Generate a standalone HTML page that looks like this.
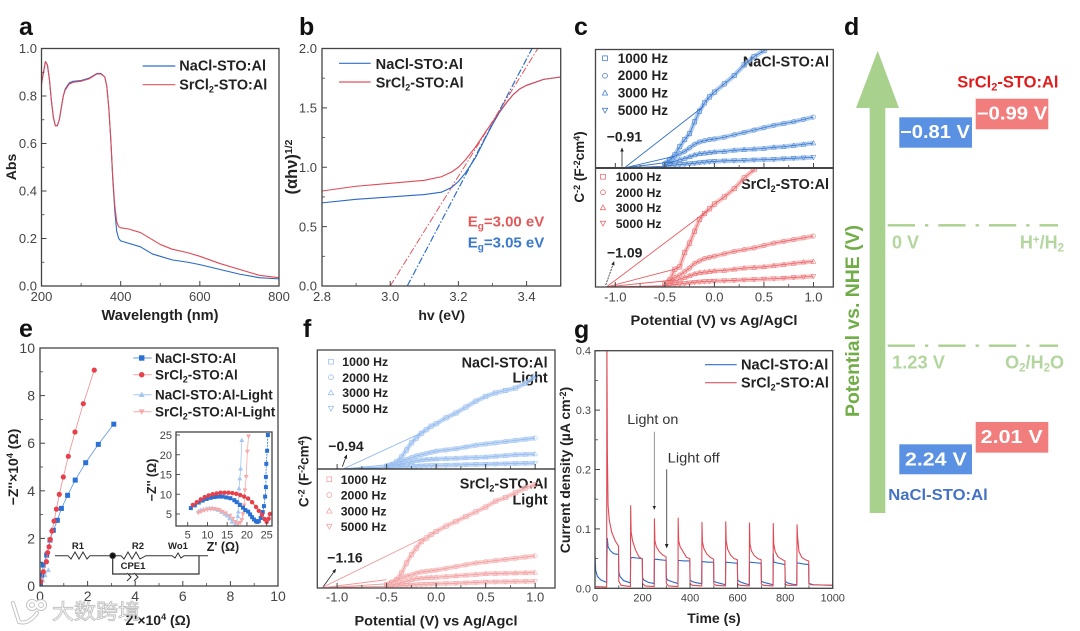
<!DOCTYPE html>
<html lang="en">
<head>
<meta charset="utf-8">
<title>Figure panels a to g</title>
<style>
html,body{margin:0;padding:0;background:#fff;width:1080px;height:631px;overflow:hidden}
svg{display:block;filter:blur(0.3px);font-size:13.5px}
text{font-family:"Liberation Sans","Noto Sans CJK SC",sans-serif;fill:#222}
.b{font-weight:bold}
.tag{font-weight:bold;font-size:25px;fill:#111}
.t{font-weight:bold;fill:#222}
.leg{font-weight:bold;font-size:14.4px;fill:#222}
.leg.e{font-size:13.5px}
.dg{font-weight:bold;font-size:18px;fill:#b3d59e}
.val{font-weight:bold;font-size:18px;fill:#fff}
</style>
</head>
<body>
<svg id="fig" xmlns="http://www.w3.org/2000/svg" width="1080" height="631" viewBox="0 0 1080 631">
<defs>
<marker id="ah" viewBox="0 0 8 8" refX="7" refY="4" markerWidth="5" markerHeight="5" orient="auto"><path d="M0 0.5L8 4L0 7.5Z" fill="#222"/></marker>
<clipPath id="clip-a"><rect x="41.5" y="48.5" width="237.5" height="237.5"/></clipPath>
<clipPath id="clip-b"><rect x="322" y="48.5" width="238.7" height="237.5"/></clipPath>
<clipPath id="clip-c1"><rect x="595.5" y="49.5" width="237.8" height="118.5"/></clipPath>
<clipPath id="clip-c2"><rect x="595.5" y="168" width="237.8" height="119"/></clipPath>
<clipPath id="clip-e"><rect x="40" y="348" width="238" height="238"/></clipPath>
<clipPath id="clip-ei"><rect x="176" y="432" width="96" height="94"/></clipPath>
<clipPath id="clip-f1"><rect x="317.3" y="350" width="238" height="119"/></clipPath>
<clipPath id="clip-f2"><rect x="317.3" y="469" width="238" height="119"/></clipPath>
<clipPath id="clip-g"><rect x="595" y="350.7" width="237.7" height="237.6"/></clipPath>
</defs>

<g id="panel-a">
  <text class="tag" x="19" y="35">a</text>
  <text class="t" x="160" y="320" text-anchor="middle" font-size="14.6">Wavelength (nm)</text>
  <text class="t" font-size="14" transform="translate(16,167) rotate(-90)" text-anchor="middle">Abs</text>
  <line x1="142.7" x2="175.3" y1="66" y2="66" stroke="#2f6fc8" stroke-width="1.2"/>
  <text class="leg" x="179.3" y="70.7" textLength="86.7" lengthAdjust="spacingAndGlyphs">NaCl-STO:Al</text>
  <line x1="142.7" x2="175.3" y1="84.7" y2="84.7" stroke="#e2555f" stroke-width="1.2"/>
  <text class="leg" x="179.3" y="89.3">SrCl<tspan font-size="9" dy="3">2</tspan><tspan dy="-3">-STO:Al</tspan></text>
</g>

<g id="panel-b">
  <text class="tag" x="299" y="35">b</text>
  <text class="t" x="441.7" y="320" text-anchor="middle" font-size="14">hv (eV)</text>
  <text class="t" transform="translate(297,167) rotate(-90)" text-anchor="middle" font-size="16.5">(αhν)<tspan font-size="10.5" dy="-5">1/2</tspan></text>
  <line x1="339" x2="370.7" y1="63.3" y2="63.3" stroke="#2f6fc8" stroke-width="1.2"/>
  <text class="leg" x="375.7" y="69" textLength="87.3" lengthAdjust="spacingAndGlyphs">NaCl-STO:Al</text>
  <line x1="339" x2="370.7" y1="82" y2="82" stroke="#e2555f" stroke-width="1.2"/>
  <text class="leg" x="375.7" y="87.3">SrCl<tspan font-size="9" dy="3">2</tspan><tspan dy="-3">-STO:Al</tspan></text>
  <text x="467.7" y="226.7" font-size="15" font-weight="bold" style="fill:#e15a5a">E<tspan font-size="10" dy="3">g</tspan><tspan dy="-3">=3.00 eV</tspan></text>
  <text x="467.7" y="247.7" font-size="15" font-weight="bold" style="fill:#3a78cc">E<tspan font-size="10" dy="3">g</tspan><tspan dy="-3">=3.05 eV</tspan></text>
</g>

<g id="panel-c">
  <text class="tag" x="574" y="35">c</text>
  <text class="t" x="714" y="325" text-anchor="middle" textLength="167" lengthAdjust="spacingAndGlyphs">Potential (V) vs Ag/AgCl</text>
  <text class="t" transform="translate(584,167) rotate(-90)" text-anchor="middle">C<tspan font-size="9" dy="-4">-2</tspan><tspan dy="4"> (F</tspan><tspan font-size="9" dy="-4">-2</tspan><tspan dy="4">cm</tspan><tspan font-size="9" dy="-4">4</tspan><tspan dy="4">)</tspan></text>
  <text x="829" y="66.7" class="leg" text-anchor="end">NaCl-STO:Al</text>
  <text x="829" y="189" class="leg" text-anchor="end">SrCl<tspan font-size="9" dy="3">2</tspan><tspan dy="-3">-STO:Al</tspan></text>
  <text x="606.7" y="141.7" class="b" font-size="14">−0.91</text>
  <text x="607" y="257.3" class="b" font-size="14">−1.09</text>
  <line x1="622" y1="166.7" x2="622" y2="148" stroke="#222" stroke-width="0.8" marker-end="url(#ah)"/>
  <line x1="605.7" y1="285" x2="614" y2="261.7" stroke="#222" stroke-width="0.8" stroke-dasharray="2 1" marker-end="url(#ah)"/>
</g>

<g id="panel-d">
  <text class="tag" x="844" y="35">d</text>
  <path d="M869.7 513V108H856L877.7 50.7L899 108H885.3V513Z" fill="#a9d18e"/>
  <text transform="translate(859,321) rotate(-90)" text-anchor="middle" font-size="19" font-weight="bold" textLength="192" lengthAdjust="spacingAndGlyphs" style="fill:#70ad47">Potential vs.  NHE (V)</text>
  <line x1="887.7" x2="1058" y1="225.3" y2="225.3" stroke="#a9d18e" stroke-width="2.4" stroke-dasharray="27.3 10 3.3 10"/>
  <line x1="887.7" x2="1058" y1="345.7" y2="345.7" stroke="#a9d18e" stroke-width="2.4" stroke-dasharray="27.3 10 3.3 10"/>
  <text class="dg" x="892" y="248.3">0 V</text>
  <text class="dg" x="1064" y="248.3" text-anchor="end">H<tspan font-size="11.5" dy="-5">+</tspan><tspan dy="5">/H</tspan><tspan font-size="11.5" dy="3">2</tspan></text>
  <text class="dg" x="892" y="368.3" textLength="53" lengthAdjust="spacingAndGlyphs">1.23 V</text>
  <text class="dg" x="1064" y="368.3" text-anchor="end">O<tspan font-size="11.5" dy="3">2</tspan><tspan dy="-3">/H</tspan><tspan font-size="11.5" dy="3">2</tspan><tspan dy="-3">O</tspan></text>
  <rect x="899.3" y="117.3" width="72.7" height="30.4" fill="#5a91e2"/>
  <rect x="975.7" y="98.7" width="72.6" height="30.6" fill="#f27d7d"/>
  <rect x="899.3" y="444.3" width="72.7" height="30" fill="#5a91e2"/>
  <rect x="975.7" y="422" width="72.6" height="30.7" fill="#f27d7d"/>
  <text class="val" x="900" y="138" textLength="70" lengthAdjust="spacingAndGlyphs">−0.81 V</text>
  <text class="val" x="976.7" y="119.5" textLength="70.6" lengthAdjust="spacingAndGlyphs">−0.99 V</text>
  <text class="val" x="905" y="465.3" textLength="61.7" lengthAdjust="spacingAndGlyphs">2.24 V</text>
  <text class="val" x="980.7" y="443" textLength="62" lengthAdjust="spacingAndGlyphs">2.01 V</text>
  <text x="957.3" y="87.3" font-size="16.5" font-weight="bold" style="fill:#e01b1b">SrCl<tspan font-size="11" dy="3">2</tspan><tspan dy="-3">-STO:Al</tspan></text>
  <text x="888.3" y="500" font-size="16" font-weight="bold" textLength="99.4" lengthAdjust="spacingAndGlyphs" style="fill:#4472c4">NaCl-STO:Al</text>
</g>

<g id="panel-e">
  <text class="tag" x="19" y="337">e</text>
  <text class="t" x="158" y="625" font-size="14" text-anchor="middle">Z'×10<tspan font-size="9" dy="-5">4</tspan><tspan dy="5"> (Ω)</tspan></text>
  <text class="t" font-size="14" transform="translate(18,467) rotate(-90)" text-anchor="middle">−Z''×10<tspan font-size="9" dy="-5">4</tspan><tspan dy="5"> (Ω)</tspan></text>
  <text class="leg e" x="155" y="363" textLength="81" lengthAdjust="spacingAndGlyphs">NaCl-STO:Al</text>
  <text class="leg e" x="155" y="379.7">SrCl<tspan font-size="9" dy="3">2</tspan><tspan dy="-3">-STO:Al</tspan></text>
  <text class="leg e" x="155" y="399.7" textLength="117.7" lengthAdjust="spacingAndGlyphs">NaCl-STO:Al-Light</text>
  <text class="leg e" x="155" y="416.7">SrCl<tspan font-size="9" dy="3">2</tspan><tspan dy="-3">-STO:Al-Light</tspan></text>
  <text class="t" font-size="12.5" x="223" y="551" text-anchor="middle">Z' (Ω)</text>
  <text class="t" font-size="12.5" transform="translate(156,480) rotate(-90)" text-anchor="middle">−Z'' (Ω)</text>
  <g fill="none" stroke="#333" stroke-width="1">
    <path d="M55 555.7H68L71 559L75 552L79 559L83 552L87 559L90 555.7H112.7H121L124 559L128 552L132 559L136 552L140 559L146 555.7H172L175 558L178 553L181 558L184 555.7H208"/>
    <path d="M112.7 555.7V574H199V555.7" stroke-width="1.2"/>
    <path d="M127 573L131 577L127 581M134 573L138 577L134 581" fill="#fff"/>
    <circle cx="112.7" cy="555.7" r="2.8" fill="#111"/>
  </g>
  <text class="b" font-size="9.5" x="78" y="549" text-anchor="middle">R1</text>
  <text class="b" font-size="9.5" x="138" y="549" text-anchor="middle">R2</text>
  <text class="b" font-size="9.5" x="178" y="549" text-anchor="middle">Wo1</text>
  <text class="b" font-size="9.5" x="133" y="569" text-anchor="middle">CPE1</text>
</g>

<g id="panel-f">
  <text class="tag" x="303" y="337">f</text>
  <text class="t" x="436" y="625.7" text-anchor="middle" textLength="163" lengthAdjust="spacingAndGlyphs">Potential (V) vs Ag/Agcl</text>
  <text class="t" transform="translate(308.3,471.5) rotate(-90)" text-anchor="middle">C<tspan font-size="9" dy="-4">-2</tspan><tspan dy="4"> (F</tspan><tspan font-size="9" dy="-4">-2</tspan><tspan dy="4">cm</tspan><tspan font-size="9" dy="-4">4</tspan><tspan dy="4">)</tspan></text>
  <text class="leg" x="547.7" y="367.3" text-anchor="end">NaCl-STO:Al</text>
  <text class="leg" x="547.7" y="382.3" text-anchor="end">Light</text>
  <text class="leg" x="547.7" y="488.3" text-anchor="end">SrCl<tspan font-size="9" dy="3">2</tspan><tspan dy="-3">-STO:Al</tspan></text>
  <text class="leg" x="547.7" y="504.3" text-anchor="end">Light</text>
  <text x="328.3" y="451" class="b" font-size="14">−0.94</text>
  <text x="327.3" y="562.7" class="b" font-size="14">−1.16</text>
  <line x1="342.3" y1="466.7" x2="346.7" y2="455" stroke="#222" stroke-width="0.8" marker-end="url(#ah)"/>
  <line x1="322.3" y1="588" x2="335.7" y2="569.3" stroke="#222" stroke-width="0.8" marker-end="url(#ah)"/>
</g>

<g id="panel-g">
  <text class="tag" x="574" y="338">g</text>
  <text class="t" font-size="14" x="714" y="623" text-anchor="middle">Time (s)</text>
  <text class="t" font-size="14" transform="translate(570,470) rotate(-90)" text-anchor="middle">Current density (µA cm<tspan font-size="9" dy="-4">-2</tspan><tspan dy="4">)</tspan></text>
  <line x1="705" x2="736.7" y1="364.7" y2="364.7" stroke="#2f6fc8" stroke-width="1.2"/>
  <text class="leg" x="741" y="369.7" textLength="87.3" lengthAdjust="spacingAndGlyphs">NaCl-STO:Al</text>
  <line x1="705" x2="736.7" y1="382.7" y2="382.7" stroke="#e2555f" stroke-width="1.2"/>
  <text class="leg" x="741" y="387.7">SrCl<tspan font-size="9" dy="3">2</tspan><tspan dy="-3">-STO:Al</tspan></text>
  <text x="627.3" y="424" font-size="14" textLength="51" lengthAdjust="spacingAndGlyphs" style="fill:#333">Light on</text>
  <text x="667.7" y="462.3" font-size="14" textLength="52" lengthAdjust="spacingAndGlyphs" style="fill:#333">Light off</text>
  <line x1="654.3" y1="431.7" x2="654.3" y2="509.3" stroke="#777" stroke-width="0.8" marker-end="url(#ah)"/>
  <line x1="666.7" y1="469.3" x2="666.7" y2="547.7" stroke="#444" stroke-width="0.9" marker-end="url(#ah)"/>
</g>

<g id="watermark" opacity="0.9">
  <g fill="none" stroke="#b9b9b9" stroke-width="4" stroke-linecap="round">
    <path d="M13 603L19 622C26 624 32 620 37 613"/>
    <circle cx="32" cy="605" r="4"/>
    <circle cx="41" cy="605" r="4"/>
  </g>
  <g fill="none" stroke="#fff" stroke-width="2.2" stroke-linecap="round">
    <path d="M13 603L19 622C26 624 32 620 37 613"/>
    <circle cx="32" cy="605" r="4"/>
    <circle cx="41" cy="605" r="4"/>
  </g>
  <text x="52" y="619" font-size="21" textLength="88" lengthAdjust="spacingAndGlyphs" style="fill:#fff;stroke:#bdbdbd;stroke-width:0.9px">大数跨境</text>
</g>
</svg>

<script>
// Panel a: absorbance spectra
const aWavelength = [200,205,210,215,220,225,230,235,240,245,250,255,260,270,280,300,320,340,350,360,365,370,375,380,385,390,395,400,420,450,480,500,530,570,600,650,700,750,800];
const aNaCl = [.85,.9,.945,.93,.87,.78,.71,.675,.675,.7,.75,.8,.83,.855,.862,.865,.875,.895,.895,.88,.84,.75,.62,.45,.32,.23,.2,.19,.18,.165,.135,.125,.11,.1,.09,.07,.05,.035,.03];
const aSrCl2 = [.85,.9,.945,.93,.87,.78,.71,.675,.675,.7,.75,.8,.825,.85,.858,.862,.872,.893,.893,.88,.84,.75,.62,.46,.34,.27,.25,.245,.24,.225,.195,.175,.155,.14,.125,.095,.07,.045,.035];
const aXTicks = [200,400,600,800];
const aYTicks = [0,.2,.4,.6,.8,1];

// Panel b: Tauc plot
const bEnergy = [2.8,2.9,3.0,3.1,3.15,3.18,3.2,3.22,3.25,3.28,3.3,3.32,3.34,3.36,3.38,3.4,3.45,3.5];
const bNaCl = [.7,.73,.75,.77,.79,.83,.88,.95,1.08,1.25,1.36,1.46,1.54,1.61,1.66,1.69,1.74,1.76];
const bSrCl2 = [.8,.84,.865,.89,.92,.96,1,1.06,1.17,1.3,1.38,1.47,1.54,1.61,1.66,1.69,1.74,1.76];
const bFitNaClX = [3.05,3.416];
const bFitSrCl2X = [3.0,3.433];
const bFitY = [0,2];
const bXTicks = [2.8,3.0,3.2,3.4];
const bYTicks = [0,.5,1,1.5,2];

// Panels c and f: Mott-Schottky curves, C^-2 in percent of panel height
const msPotential = [-.5,-.45,-.4,-.35,-.3,-.25,-.2,-.15,-.1,-.05,0,.1,.2,.3,.4,.5,.6,.7,.8,.9,1];
const cTop1000 = [3,7,11,18,24,29,39,48,55,60,64,71,78,87,94,99,106,114,122,130,138];
const cTop2000 = [4,7,10,12,14,17,20,22,23,24,24.5,26,28,30,32,34,36,37.5,39,41,43];
const cTop3000 = [2,4,5.5,7,8,9.5,11,12,12.5,13,13.5,14,15,15.5,16,16.5,17.5,18,19,20,21];
const cTop5000 = [1.5,2,2.5,3,3.3,3.6,4,4.5,5,5.3,5.6,6,6.2,6.5,6.8,7,7.3,7.8,8.2,8.6,9];
const cBot1000 = [3,6,15,17,29,37,47,57,62,66,70,76,83,92,99,108,116,124,132,140,148];
const cBot2000 = [3,6,8,10,13,16,20,22,24,25,26,28,30,31.5,33,35,37,38.5,40,41.5,43];
const cBot3000 = [2,3.5,5,6.5,8,9.5,11,12,12.5,13,13.5,14,15,16,16.5,17,18,19,20,21,21.5];
const cBot5000 = [1,1.5,2,2.5,3,3.5,4,4.3,4.6,4.8,5,5.3,5.6,6,6.3,6.7,7,7.5,8,8.5,9];
const fTop1000 = [2,3.4,6,10,16,22,26,30,33,36,38,43,47,52,57,61,64,66,68,72,78];
const fTop2000 = [3,4,5,6.5,8,9.5,11,12,13,14,15,16,17,18.5,20,21,22,23,24,25,26];
const fTop3000 = [2,3,3.5,4.2,5,6,7,7.5,8,8.2,8.4,8.7,9,9.4,9.7,10,10.7,11.3,12,12.3,12.6];
const fTop5000 = [1,1.3,1.5,1.8,2,2.2,2.4,2.6,2.8,2.9,3,3.2,3.4,3.6,3.8,4,4.2,4.4,4.6,4.8,5];
const fBot1000 = [3,4.5,7,12.5,21,28,33.5,39,42,45,47.5,52,56,60,64,68,73,76,80,84,87];
const fBot2000 = [3,5,6.5,8,10,11,12.5,13.5,14,14.5,15,16.5,18,19.5,21,22,23,24,25,26,27];
const fBot3000 = [1.5,2.5,3.5,4.5,5.6,7,8,8.3,8.6,8.8,9,9.6,10.2,10.8,11.4,12,12.2,12.4,12.6,12.8,13];
const fBot5000 = [1,1.3,1.6,1.9,2.2,2.5,2.8,3,3.2,3.3,3.4,3.7,4,4.3,4.6,5,5.1,5.2,5.4,5.5,5.6];
const cTopIntercept = -0.91;
const cBotIntercept = -1.09;
const fTopIntercept = -0.94;
const fBotIntercept = -1.16;
const cTopFitEndV = [-.11,-.4,-.4,-.5];
const cTopFitEndC = [52,10,5.5,1.5];
const cBotFitEndV = [-.06,-.4,-.4,-.5];
const cBotFitEndC = [65,15,6,1];
const fTopFitEndV = [-.13,-.5,-.5,-.5];
const fTopFitEndC = [31,3.5,2,1];
const fBotFitEndV = [-.13,-.5,-.5,-.5];
const fBotFitEndC = [42,7,3.5,1.5];
const msXTicks = [-1,-.5,0,.5,1];
const msXLabels = ['-1.0','-0.5','0.0','0.5','1.0'];
const msFrequencies = ['1000 Hz','2000 Hz','3000 Hz','5000 Hz'];

// Panel e: Nyquist data, in units of 10^4 ohm
const eNaClX = [3.1,2.45,1.92,1.48,1.16,.9,.73,.56,.42,.28,.14,.07,.02];
const eNaClY = [6.8,5.95,5.18,4.45,3.81,3.26,2.76,2.34,1.93,1.3,.88,.46,.1];
const eSrCl2X = [2.28,1.82,1.47,1.19,.98,.81,.69,.59,.5,.43,.38,.32,.27,.14,.03];
const eSrCl2Y = [9.07,7.66,6.47,5.45,4.58,3.85,3.23,2.73,2.31,1.96,1.65,1.4,1.02,.6,.18];
const eNaClLightX = [.35,.21,.11,.03];
const eNaClLightY = [.67,.46,.25,.07];
const eSrCl2LightX = [.07,.03];
const eSrCl2LightY = [.32,.11];
const eTicks = [0,2,4,6,8,10];

// Panel e inset, in ohm
const iNaClX = [5.8,6.8,7.8,8.8,9.8,10.8,11.8,12.8,13.8,14.8,15.8,16.8,17.4,18.2,19,19.6,20.3,20.8,21.3,21.8,22.3,22.6,23,23.5,24,24.3,24.6,24.8,24.8,24.9,25.1,25.3];
const iNaClY = [6.5,7.2,7.9,8.4,8.8,9.1,9.3,9.4,9.4,9.2,9,8.5,8,7.3,6.6,6,5.6,4.9,4.2,3.6,3.2,3,3.2,4,5.5,7,9.4,11.8,14.4,17.7,21,25];
const iSrCl2X = [6.3,7.3,8.3,9.3,10.3,11.3,12.3,13.3,14.3,15.3,16.3,17.3,18.3,19.3,20.3,21.3,22.3,23,23.8,24.5,25,25.5,25.8];
const iSrCl2Y = [7.3,8,8.7,9.3,9.7,10,10.2,10.4,10.4,10.4,10.3,10.1,9.8,9.4,8.9,8,6.8,5.8,4.8,3.7,3,3.8,5];
const iNaClLightX = [7.7,8.3,9,9.8,10.5,11.2,12,12.8,13.6,14.4,15,15.6,16.2,17,17.4,17.7,17.8,17.9,18,18.2,18.4,18.7];
const iNaClLightY = [5.7,6,6.2,6.4,6.5,6.5,6.3,6,5.5,5,4.6,3.9,3,2.2,3,4.5,5.6,8,11.5,14,16.5,23.7];
const iSrCl2LightX = [7.7,8.4,9.2,10,10.8,11.4,12.2,13,13.8,14.6,15.7,16.4,17,17.7,18.3,18.7,19,19.3,19.5,19.8,20.1,20.4];
const iSrCl2LightY = [5.3,5.6,5.9,6.1,6.2,6.3,6.2,6,5.6,5.2,4.6,3.8,3,2.4,2.8,3.5,5,7.2,11,14.4,20.8,24.7];
const iXTicks = [5,10,15,20,25];
const iYTicks = [5,10,15,20,25];

// Panel g: transient photocurrent
const gSrCl2Time = [0,49,50,52,55,60,70,85,99,100,110,149,150,152,158,170,185,199,200,210,249,250,252,258,270,285,299,300,310,349,350,352,358,370,385,399,400,410,449,450,452,458,470,485,499,500,510,549,550,552,558,570,585,599,600,610,649,650,652,658,670,685,699,700,710,749,750,752,758,770,785,799,800,810,849,850,852,858,870,885,899,900,910,1000];
const gSrCl2 = [.003,.002,.42,.23,.14,.115,.095,.08,.071,.012,.005,.003,.139,.095,.08,.065,.053,.049,.008,.004,.003,.117,.08,.07,.062,.056,.053,.008,.004,.003,.118,.08,.07,.062,.052,.05,.008,.005,.004,.111,.078,.067,.058,.052,.049,.007,.005,.004,.112,.08,.066,.056,.05,.048,.007,.005,.004,.11,.075,.063,.055,.05,.048,.007,.005,.004,.109,.075,.062,.053,.049,.046,.007,.005,.005,.107,.088,.062,.052,.048,.046,.007,.006,.005];
const gNaClTime = [0,3,10,25,49,50,52,55,65,80,99,100,105,120,149,150,155,175,199,200,205,225,249,250,255,275,299,300,305,325,349,350,375,399,400,410,430,449,450,475,499,500,510,530,549,550,575,599,600,610,630,649,650,675,699,700,710,730,749,750,752,775,799,800,810,830,849,850,875,899,900,920,1000];
const gNaCl = [.055,.03,.02,.014,.01,.05,.084,.07,.063,.058,.057,.028,.02,.013,.009,.05,.052,.051,.05,.018,.014,.01,.008,.048,.049,.048,.047,.018,.014,.011,.008,.047,.046,.046,.014,.011,.009,.008,.045,.044,.044,.012,.01,.008,.006,.044,.043,.042,.014,.011,.008,.006,.044,.043,.042,.012,.01,.008,.006,.058,.044,.042,.04,.012,.009,.007,.006,.043,.041,.04,.008,.006,.005];
const gXTicks = [0,200,400,600,800,1000];
const gYTicks = [0,.1,.2,.3,.4];

const NS = 'http://www.w3.org/2000/svg';
const AXIS = '#444';

function add(parent, tag, attrs, name) {
  const e = document.createElementNS(NS, tag);
  for (const k in attrs) e.setAttribute(k, attrs[k]);
  
  
  parent.appendChild(e);
  return e;
}
function scale(d0, d1, r0, r1) {
  return v => r0 + (v - d0) / (d1 - d0) * (r1 - r0);
}
function tickLabel(parent, x, y, str, size, anchor, name) {
  const t = add(parent, 'text', {x: x, y: y, 'font-size': size, 'text-anchor': anchor, style: 'fill:#444'}, name);
  t.textContent = str;
  return t;
}
function xAxis(g, sx, yBase, major, labels, minor, opt) {
  major.forEach((v, i) => {
    add(g, 'line', {x1: sx(v), x2: sx(v), y1: yBase, y2: yBase - 5, stroke: AXIS, 'stroke-width': 1}, 'x-tick');
    if (labels) tickLabel(g, sx(v), opt.labelY, labels[i], opt.size, 'middle', 'x-tick-label');
  });
  minor.forEach(v => {
    add(g, 'line', {x1: sx(v), x2: sx(v), y1: yBase, y2: yBase - 3, stroke: AXIS, 'stroke-width': 0.8}, 'x-minor-tick');
  });
}
function yAxis(g, sy, xBase, major, labels, minor, opt) {
  major.forEach((v, i) => {
    add(g, 'line', {x1: xBase, x2: xBase + 5, y1: sy(v), y2: sy(v), stroke: AXIS, 'stroke-width': 1}, 'y-tick');
    tickLabel(g, opt.labelX, sy(v) + opt.size * 0.36, labels[i], opt.size, 'end', 'y-tick-label');
  });
  minor.forEach(v => {
    add(g, 'line', {x1: xBase, x2: xBase + 3, y1: sy(v), y2: sy(v), stroke: AXIS, 'stroke-width': 0.8}, 'y-minor-tick');
  });
}
function frame(g, x, y, w, h) {
  add(g, 'rect', {x: x, y: y, width: w, height: h, fill: 'none', stroke: AXIS, 'stroke-width': 1.3}, 'plot-frame');
}
function pathOf(xs, ys, sx, sy) {
  return xs.map((v, i) => (i ? 'L' : 'M') + sx(v).toFixed(2) + ' ' + sy(ys[i]).toFixed(2)).join('');
}
function curve(g, xs, ys, sx, sy, attrs, name) {
  const a = Object.assign({d: pathOf(xs, ys, sx, sy), fill: 'none', 'stroke-linejoin': 'round'}, attrs);
  return add(g, 'path', a, name);
}
function glyph(parent, kind, cx, cy, s, attrs, name) {
  if (kind === 'circle') return add(parent, 'circle', Object.assign({cx: cx, cy: cy, r: s}, attrs), name);
  if (kind === 'square') return add(parent, 'rect', Object.assign({x: cx - s, y: cy - s, width: 2 * s, height: 2 * s}, attrs), name);
  const dir = kind === 'up' ? 1 : -1;
  const pts = [[cx, cy - dir * s * 1.15], [cx - s * 1.1, cy + dir * s * 0.85], [cx + s * 1.1, cy + dir * s * 0.85]];
  return add(parent, 'polygon', Object.assign({points: pts.map(p => p.join(',')).join(' ')}, attrs), name);
}
function panel(id) { return document.getElementById(id); }
function fmt1(v) { return v.toFixed(1); }

// Panel a
(function () {
  const g = panel('panel-a');
  const sx = scale(200, 800, 41.5, 279), sy = scale(0, 1, 286, 48.5);
  const plot = add(g, 'g', {'clip-path': 'url(#clip-a)'}, 'plot-area');
  curve(plot, aWavelength, aNaCl, sx, sy, {stroke: '#2a68c4', 'stroke-width': 1.1}, 'series-nacl');
  curve(plot, aWavelength, aSrCl2, sx, sy, {stroke: '#e04a56', 'stroke-width': 1.1}, 'series-srcl2');
  frame(g, 41.5, 48.5, 237.5, 237.5);
  xAxis(g, sx, 286, aXTicks, aXTicks.map(String), [300, 500, 700], {labelY: 301, size: 13});
  yAxis(g, sy, 41.5, aYTicks, aYTicks.map(fmt1), [.1, .3, .5, .7, .9], {labelX: 37, size: 13});
})();

// Panel b
(function () {
  const g = panel('panel-b');
  const sx = scale(2.8, 3.5, 322, 560.7), sy = scale(0, 2, 286, 48.5);
  const plot = add(g, 'g', {'clip-path': 'url(#clip-b)'}, 'plot-area');
  curve(plot, bFitSrCl2X, bFitY, sx, sy, {stroke: '#e2555f', 'stroke-width': 1, 'stroke-dasharray': '7 2 1.5 2'}, 'fit-line-srcl2');
  curve(plot, bFitNaClX, bFitY, sx, sy, {stroke: '#2f6fc8', 'stroke-width': 1.2, 'stroke-dasharray': '7 2 1.5 2'}, 'fit-line-nacl');
  curve(plot, bEnergy, bNaCl, sx, sy, {stroke: '#2a68c4', 'stroke-width': 1.1}, 'series-nacl');
  curve(plot, bEnergy, bSrCl2, sx, sy, {stroke: '#e04a56', 'stroke-width': 1.1}, 'series-srcl2');
  frame(g, 322, 48.5, 238.7, 237.5);
  xAxis(g, sx, 286, bXTicks, bXTicks.map(fmt1), [2.9, 3.1, 3.3, 3.5], {labelY: 301, size: 13});
  yAxis(g, sy, 322, bYTicks, bYTicks.map(fmt1), [.25, .75, 1.25, 1.75], {labelX: 317, size: 13});
})();

// Panels c and f
const glyphKinds = ['square', 'circle', 'up', 'down'];
function msPanel(g, cfg) {
  const sy = scale(0, 100, cfg.y0, cfg.y1);
  const plot = add(g, 'g', {'clip-path': 'url(#' + cfg.clip + ')'}, cfg.name + '-plot');
  cfg.series.forEach((ys, i) => {
    const sName = cfg.name + '-' + msFrequencies[i].replace(' ', '').toLowerCase();
    curve(plot, msPotential, ys, cfg.sx, sy, {stroke: cfg.band, 'stroke-width': 4.6, opacity: 0.7}, sName + '-band');
    msPotential.forEach((v, k) => {
      glyph(plot, glyphKinds[i], cfg.sx(v), sy(ys[k]), 2.2, {fill: 'none', stroke: cfg.color, 'stroke-width': 0.45}, sName + '-point');
    });
    curve(plot, msPotential, ys, cfg.sx, sy, {stroke: cfg.color, 'stroke-width': 0.7}, sName + '-line');
    curve(plot, [cfg.intercept, cfg.fitV[i]], [0, cfg.fitC[i]], cfg.sx, sy, {stroke: cfg.color, 'stroke-width': 0.9}, sName + '-fit');
  });
  xAxis(g, cfg.sx, cfg.y0, msXTicks, cfg.labels ? msXLabels : null, [-.75, -.25, .25, .75], {labelY: cfg.labelY, size: 13});
  msFrequencies.forEach((f, i) => {
    const y = cfg.legendY[i];
    glyph(g, glyphKinds[i], cfg.legMarkX, y, 2.4, {fill: 'none', stroke: cfg.color, 'stroke-width': 0.7}, 'legend-marker-' + f.replace(' ', '').toLowerCase());
    const t = add(g, 'text', {x: cfg.legTextX, y: y + 4.5, 'font-size': cfg.legSize, 'font-weight': 'bold', style: 'fill:#222'}, 'legend-entry-' + f.replace(' ', '').toLowerCase());
    t.textContent = f;
  });
}
(function () {
  const g = panel('panel-c');
  const sx = scale(-1.2, 1.2, 595.5, 833.3);
  msPanel(g, {name: 'nacl', clip: 'clip-c1', sx: sx, y0: 168, y1: 49.5, series: [cTop1000, cTop2000, cTop3000, cTop5000], intercept: cTopIntercept, fitV: cTopFitEndV, fitC: cTopFitEndC, color: '#2f6fc8', band: '#8fb6e8', labels: false, legendY: [58.3, 75.7, 93, 110.3], legMarkX: 605, legTextX: 617.7, legSize: 13.5});
  msPanel(g, {name: 'srcl2', clip: 'clip-c2', sx: sx, y0: 287, y1: 168.5, series: [cBot1000, cBot2000, cBot3000, cBot5000], intercept: cBotIntercept, fitV: cBotFitEndV, fitC: cBotFitEndC, color: '#e85a60', band: '#f4a9a9', labels: true, labelY: 301.7, legendY: [176.7, 192.3, 207.7, 223.3], legMarkX: 603, legTextX: 615.7, legSize: 12.3});
  frame(g, 595.5, 49.5, 237.8, 237.5);
  add(g, 'line', {x1: 595.5, x2: 833.3, y1: 168, y2: 168, stroke: AXIS, 'stroke-width': 2}, 'panel-divider');
  const f = panel('panel-f');
  const sf = scale(-1.2, 1.2, 317.3, 555);
  msPanel(f, {name: 'nacl-light', clip: 'clip-f1', sx: sf, y0: 469, y1: 350, series: [fTop1000, fTop2000, fTop3000, fTop5000], intercept: fTopIntercept, fitV: fTopFitEndV, fitC: fTopFitEndC, color: '#8fb8ee', band: '#a9c9f2', labels: false, legendY: [361.7, 377.3, 392.7, 408.3], legMarkX: 331, legTextX: 342.3, legSize: 12.3});
  msPanel(f, {name: 'srcl2-light', clip: 'clip-f2', sx: sf, y0: 588, y1: 469, series: [fBot1000, fBot2000, fBot3000, fBot5000], intercept: fBotIntercept, fitV: fBotFitEndV, fitC: fBotFitEndC, color: '#f0999b', band: '#f7bcbc', labels: true, labelY: 601.7, legendY: [479.3, 495, 511, 526.3], legMarkX: 329.3, legTextX: 340.7, legSize: 12.3});
  frame(f, 317.3, 350, 237.7, 238);
  add(f, 'line', {x1: 317.3, x2: 555, y1: 469, y2: 469, stroke: '#222', 'stroke-width': 1.3}, 'panel-divider');
})();

// Panel e
function scatter(g, xs, ys, sx, sy, kind, size, fill, lineCol, name, dash) {
  const a = {stroke: lineCol, 'stroke-width': 0.8};
  if (dash) a['stroke-dasharray'] = dash;
  curve(g, xs, ys, sx, sy, a, name + '-line');
  xs.forEach((v, i) => {
    glyph(g, kind, sx(v), sy(ys[i]), size, {fill: fill}, name + '-point');
  });
}
(function () {
  const g = panel('panel-e');
  const sx = scale(0, 10, 40, 278), sy = scale(0, 10, 586, 348);
  const plot = add(g, 'g', {'clip-path': 'url(#clip-e)'}, 'plot-area');
  scatter(plot, eNaClLightX, eNaClLightY, sx, sy, 'up', 2.4, '#a5c6f2', '#a5c6f2', 'series-nacl-light');
  scatter(plot, eSrCl2LightX, eSrCl2LightY, sx, sy, 'down', 2.4, '#f7a9a9', '#f7a9a9', 'series-srcl2-light');
  scatter(plot, eNaClX, eNaClY, sx, sy, 'square', 2.5, '#2b70d4', '#5f96e4', 'series-nacl');
  scatter(plot, eSrCl2X, eSrCl2Y, sx, sy, 'circle', 2.6, '#e8404a', '#ef8d92', 'series-srcl2');
  frame(g, 40, 348, 238, 238);
  xAxis(g, sx, 586, eTicks, eTicks.map(String), [1, 3, 5, 7, 9], {labelY: 601, size: 14});
  yAxis(g, sy, 40, eTicks, eTicks.map(String), [1, 3, 5, 7, 9], {labelX: 35, size: 14});
  const legendRows = [[358, 'square', '#2b70d4', '#5f96e4'], [374.7, 'circle', '#e8404a', '#f4a2a6'], [394.7, 'up', '#a5c6f2', '#a5c6f2'], [411.7, 'down', '#f7a9a9', '#f7a9a9']];
  legendRows.forEach((r, i) => {
    add(g, 'line', {x1: 133.3, x2: 151.7, y1: r[0], y2: r[0], stroke: r[3], 'stroke-width': 1}, 'legend-line-' + i);
    glyph(g, r[1], 141.7, r[0], 2.7, {fill: r[2]}, 'legend-marker-' + i);
  });
  const ix = scale(5, 25, 187.7, 266.7), iy = scale(5, 25, 514, 435);
  add(g, 'rect', {x: 176, y: 432, width: 96, height: 94, fill: '#fff'}, 'inset-background');
  const inset = add(g, 'g', {'clip-path': 'url(#clip-ei)'}, 'inset-plot');
  scatter(inset, iNaClLightX, iNaClLightY, ix, iy, 'up', 2.2, '#a5c6f2', '#a5c6f2', 'inset-series-nacl-light');
  scatter(inset, iSrCl2LightX, iSrCl2LightY, ix, iy, 'down', 2.2, '#f7a9a9', '#f7a9a9', 'inset-series-srcl2-light');
  scatter(inset, iNaClX, iNaClY, ix, iy, 'square', 2, '#2b70d4', '#2b70d4', 'inset-series-nacl', '2 1');
  scatter(inset, iSrCl2X, iSrCl2Y, ix, iy, 'circle', 2.2, '#e8404a', '#e8404a', 'inset-series-srcl2');
  frame(g, 176, 432, 96, 94);
  iXTicks.forEach(v => {
    add(g, 'line', {x1: ix(v), x2: ix(v), y1: 526, y2: 522, stroke: AXIS, 'stroke-width': 0.9}, 'inset-x-tick');
    tickLabel(g, ix(v), 538.3, String(v), 11, 'middle', 'inset-x-tick-label');
  });
  iYTicks.forEach(v => {
    add(g, 'line', {x1: 176, x2: 180, y1: iy(v), y2: iy(v), stroke: AXIS, 'stroke-width': 0.9}, 'inset-y-tick');
    tickLabel(g, 172, iy(v) + 4, String(v), 11, 'end', 'inset-y-tick-label');
  });
})();

// Panel g
(function () {
  const g = panel('panel-g');
  const sx = scale(0, 1000, 595, 832.7), sy = scale(0, .4, 588.3, 350.7);
  const plot = add(g, 'g', {'clip-path': 'url(#clip-g)'}, 'plot-area');
  curve(plot, gNaClTime, gNaCl, sx, sy, {stroke: '#2a68c4', 'stroke-width': 1.1}, 'series-nacl');
  curve(plot, gSrCl2Time, gSrCl2, sx, sy, {stroke: '#e04a56', 'stroke-width': 1.1}, 'series-srcl2');
  frame(g, 595, 350.7, 237.7, 237.6);
  xAxis(g, sx, 588.3, gXTicks, gXTicks.map(String), [100, 300, 500, 700, 900], {labelY: 601.7, size: 11});
  yAxis(g, sy, 595, gYTicks, gYTicks.map(fmt1), [.05, .15, .25, .35], {labelX: 591, size: 11});
  const top = panel('watermark');
  top.parentNode.appendChild(top);
})();
</script>
</body>
</html>
